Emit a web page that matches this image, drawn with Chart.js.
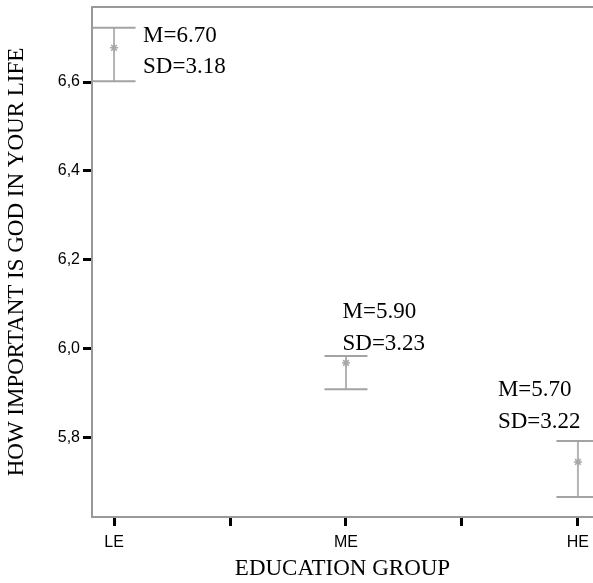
<!DOCTYPE html>
<html>
<head>
<meta charset="utf-8">
<script src="https://cdn.jsdelivr.net/npm/chart.js@4/dist/chart.umd.min.js"></script>
<style>
  html, body { margin: 0; padding: 0; background: #fff; }
  #wrap { width: 593px; height: 583px; }
</style>
</head>
<body>
<div id="wrap"><canvas id="chart" width="593" height="583"></canvas></div>
<script>
// data
const groups = ['LE', 'ME', 'HE'];
const groupPos = [0, 1, 2];
const means = [6.677, 5.967, 5.744];
const upper = [6.722, 5.983, 5.791];
const lower = [6.602, 5.908, 5.665];
const statM = ['M=6.70', 'M=5.90', 'M=5.70'];
const statSD = ['SD=3.18', 'SD=3.23', 'SD=3.22'];
const yTicks = [5.8, 6.0, 6.2, 6.4, 6.6];
const xTicks = [0, 0.5, 1, 1.5, 2];

// where the M / SD text sits, in data units (x, y of M line, y of SD line)
const LABEL_ANCHORS = [
  [0.125, 6.704, 6.634],
  [0.985, 6.082, 6.010],
  [1.655, 5.906, 5.834],
];

const SERIF = "'Liberation Serif', 'Times New Roman', serif";
const SANS = "'Liberation Sans', Arial, sans-serif";
const BAR_GREY = '#a3a3a3';

const errorBars = {
  id: 'errorBars',
  beforeDatasetsDraw(chart) {
    const { ctx, scales: { x, y } } = chart;
    ctx.save();
    groupPos.forEach((g, i) => {
      const px = x.getPixelForValue(g);
      const top = y.getPixelForValue(upper[i]);
      const bot = y.getPixelForValue(lower[i]);
      ctx.strokeStyle = '#b4b4b4';
      ctx.lineWidth = 2;
      ctx.beginPath();
      ctx.moveTo(px, top);
      ctx.lineTo(px, bot);
      ctx.stroke();
      ctx.strokeStyle = BAR_GREY;
      ctx.lineWidth = 2;
      ctx.beginPath();
      ctx.moveTo(px - 21.5, top); ctx.lineTo(px + 21.5, top);
      ctx.moveTo(px - 21.5, bot); ctx.lineTo(px + 21.5, bot);
      ctx.stroke();
    });
    ctx.restore();
  },
  afterDraw(chart) {
    const { ctx, chartArea, scales: { x, y } } = chart;
    ctx.save();
    // top frame line
    ctx.strokeStyle = '#999';
    ctx.lineWidth = 2;
    ctx.beginPath();
    ctx.moveTo(chartArea.left, chartArea.top);
    ctx.lineTo(chartArea.right, chartArea.top);
    ctx.stroke();
    // M / SD annotations
    ctx.fillStyle = '#000';
    ctx.font = '23px ' + SERIF;
    ctx.textAlign = 'left';
    ctx.textBaseline = 'middle';
    LABEL_ANCHORS.forEach((a, i) => {
      const px = x.getPixelForValue(a[0]);
      ctx.fillText(statM[i], px, y.getPixelForValue(a[1]));
      ctx.fillText(statSD[i], px, y.getPixelForValue(a[2]));
    });
    ctx.restore();
  },
};

new Chart(document.getElementById('chart'), {
  type: 'scatter',
  data: {
    datasets: [{
      label: 'Mean',
      data: groupPos.map((g, i) => ({ x: g, y: means[i] })),
      pointStyle: 'star',
      radius: 4,
      borderColor: '#a8a8a8',
      backgroundColor: '#d0d0d0',
      borderWidth: 1.5,
    }],
  },
  options: {
    responsive: false,
    animation: false,
    layout: { autoPadding: false, padding: { top: 7, right: 0, left: 0, bottom: 0 } },
    plugins: { legend: { display: false }, tooltip: { enabled: false } },
    scales: {
      x: {
        type: 'linear',
        min: -0.095,
        max: 2.065,
        afterBuildTicks: s => { s.ticks = xTicks.map(v => ({ value: v })); },
        afterFit: s => { s.height = 66; s.paddingLeft = 0; s.paddingRight = 0; },
        grid: { drawOnChartArea: false, drawTicks: true, tickLength: 9, tickWidth: 3, tickColor: '#000' },
        border: { color: '#999', width: 2 },
        ticks: {
          color: '#000',
          font: { family: SANS, size: 16 },
          padding: 7,
          maxRotation: 0,
          autoSkip: false,
          callback: v => (Number.isInteger(v) ? groups[v] : ''),
        },
        title: { display: true, text: 'EDUCATION GROUP', color: '#000', font: { family: SERIF, size: 23 }, padding: { top: 0, bottom: 0 } },
      },
      y: {
        min: 5.62,
        max: 6.769,
        afterBuildTicks: s => { s.ticks = yTicks.map(v => ({ value: v })); },
        afterFit: s => { s.width = 92; s.paddingTop = 0; s.paddingBottom = 0; },
        grid: { drawOnChartArea: false, drawTicks: true, tickLength: 9, tickWidth: 3, tickColor: '#000' },
        border: { color: '#999', width: 2 },
        ticks: {
          color: '#000',
          font: { family: SANS, size: 16 },
          padding: 3,
          callback: v => v.toFixed(1).replace('.', ','),
        },
        title: { display: true, text: 'HOW IMPORTANT IS GOD IN YOUR LIFE', color: '#000', font: { family: SERIF, size: 23 }, padding: { top: 3, bottom: 0 } },
      },
    },
  },
  plugins: [errorBars],
});
</script>
</body>
</html>
